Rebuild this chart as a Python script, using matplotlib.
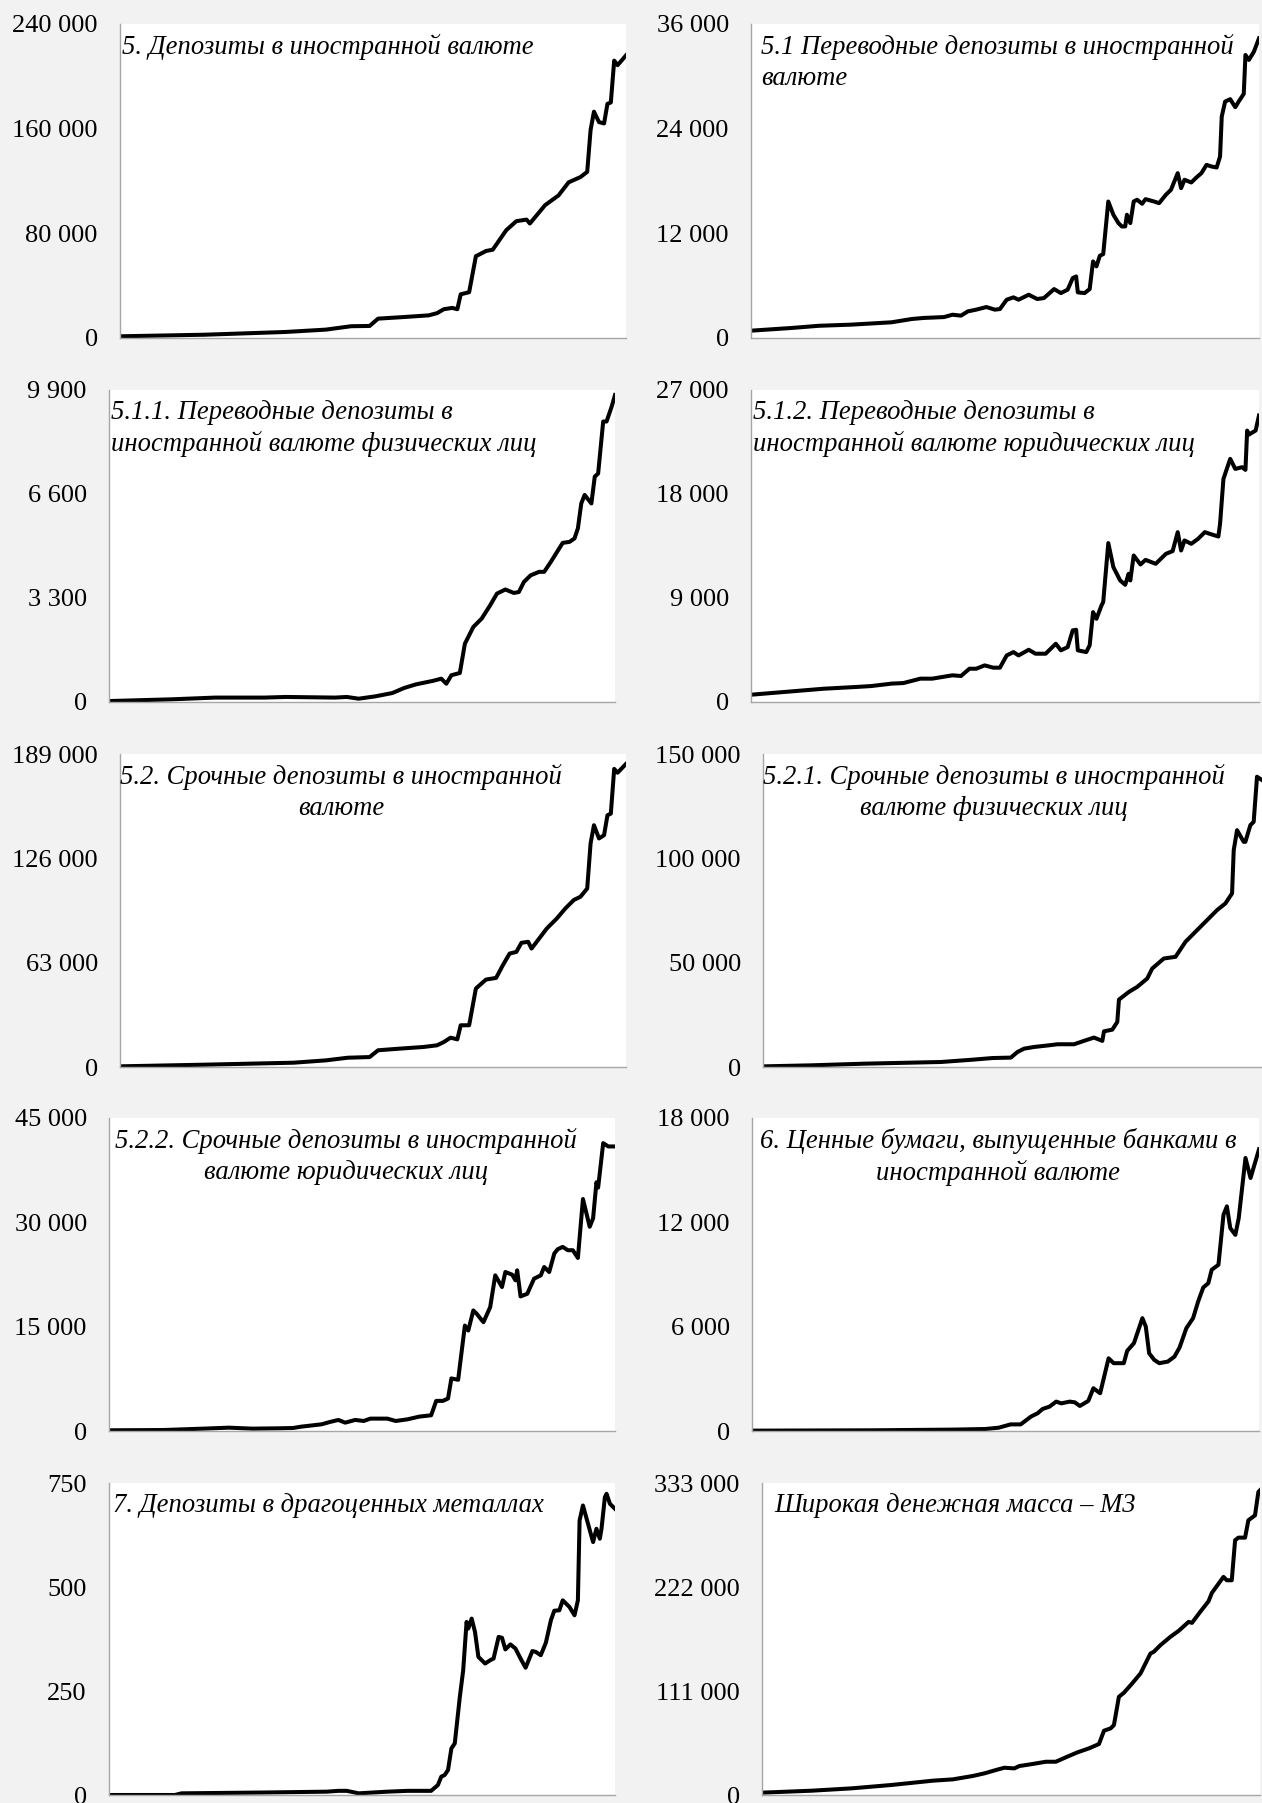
import matplotlib
matplotlib.use("Agg")
import matplotlib.pyplot as plt
from matplotlib.ticker import FixedLocator, FuncFormatter

# months since start of the observed period (x axis is not labelled)
dep_fx_m = [0, 50, 98, 122, 137, 148, 153, 168, 183, 188, 192, 197, 200, 202, 207, 211, 217, 221, 229,
            235, 241, 243, 252, 260, 266, 273, 277, 279, 281, 284, 287, 289, 291, 293, 295, 300]
dep_fx_v = [1300, 2500, 4600, 6400, 9000, 9200, 14800, 16000, 17300, 19000, 22000, 23000, 22000, 33400,
            35000, 62500, 66500, 67500, 82400, 89300, 90500, 87500, 101500, 109000, 119000, 123000,
            127000, 159000, 173000, 165000, 164000, 179000, 180000, 212000, 208500, 216000]

trans_fx_m = [0, 24, 40, 59, 83, 95, 102, 114, 119, 124, 128, 133, 139, 144, 147, 151, 155, 158, 164, 169,
              173, 179, 183, 187, 190, 192, 193, 197, 200, 202, 204, 206, 208, 211, 214, 217, 219, 221,
              222, 224, 226, 228, 231, 233, 238, 241, 245, 248, 252, 254, 256, 260, 263, 266, 269, 272,
              275, 277, 278, 280, 283, 286, 288, 291, 292, 294, 297, 300]
trans_fx_v = [840, 1150, 1400, 1530, 1800, 2180, 2300, 2400, 2670, 2560, 3050, 3250, 3550, 3250, 3320,
              4390, 4660, 4390, 4960, 4470, 4580, 5610, 5150, 5540, 6870, 7060, 5230, 5150, 5610, 8780,
              8210, 9430, 9620, 15650, 14130, 13170, 12790, 12790, 14130, 13170, 15650, 15850, 15390,
              15920, 15650, 15460, 16420, 16990, 18900, 17180, 18140, 17830, 18400, 18900, 19850, 19660,
              19550, 20810, 25390, 27110, 27380, 26460, 27110, 27990, 32450, 31880, 32830, 34360]

trans_ind_m = [0, 37, 63, 92, 105, 134, 141, 148, 158, 168, 175, 182, 192, 197, 200, 203, 208, 211, 216,
               221, 226, 230, 235, 240, 243, 246, 250, 255, 258, 262, 269, 273, 276, 278, 280, 282, 286,
               288, 290, 293, 295, 298, 300]
trans_ind_v = [30, 85, 140, 140, 160, 140, 160, 105, 180, 285, 445, 560, 670, 740, 580, 850, 920, 1850,
               2380, 2650, 3070, 3440, 3570, 3460, 3490, 3810, 4020, 4130, 4130, 4450, 5050, 5080, 5190,
               5510, 6300, 6570, 6300, 7150, 7250, 8900, 8900, 9370, 9740]

trans_corp_m = [0, 24, 43, 62, 71, 83, 90, 100, 107, 119, 124, 129, 133, 138, 143, 147, 151, 155, 158,
                164, 168, 174, 180, 183, 187, 190, 192, 193, 198, 200, 202, 204, 207, 208, 211, 214, 218,
                221, 223, 224, 226, 230, 233, 239, 245, 249, 252, 254, 256, 260, 264, 268, 271, 276, 277,
                279, 283, 286, 290, 292, 293, 294, 298, 300]
trans_corp_v = [630, 920, 1150, 1300, 1380, 1590, 1640, 2020, 2020, 2310, 2250, 2880, 2880, 3170, 2970,
                2970, 4030, 4320, 4030, 4520, 4180, 4180, 5040, 4470, 4750, 6200, 6250, 4470, 4320, 4900,
                7780, 7200, 8360, 8650, 13750, 11670, 10520, 10140, 11100, 10520, 12680, 11900, 12300,
                11960, 12820, 13060, 14700, 13110, 13980, 13690, 14120, 14700, 14550, 14320, 15420,
                19310, 21040, 20170, 20320, 20090, 23490, 23140, 23490, 24790]

term_fx_m = [0, 50, 103, 122, 135, 148, 153, 166, 180, 188, 192, 196, 200, 202, 207, 211, 217, 223, 227,
             231, 235, 238, 242, 244, 253, 259, 264, 269, 273, 277, 279, 281, 284, 287, 289, 291, 293,
             295, 300]
term_fx_v = [400, 1400, 2600, 4000, 5600, 6000, 10100, 11100, 12100, 13100, 15100, 17700, 16700, 25200,
             25200, 47400, 52800, 53800, 61500, 68500, 69500, 75000, 75600, 71500, 83600, 89700, 95700,
             100800, 102800, 107800, 135000, 146000, 138000, 140000, 152000, 153000, 180000, 177700,
             183000]

term_ind_m = [0, 29, 61, 90, 107, 126, 138, 149, 153, 157, 163, 172, 177, 187, 194, 199, 204, 205, 210,
              213, 214, 220, 225, 231, 234, 241, 248, 254, 260, 267, 273, 278, 282, 283, 285, 289, 290,
              293, 295, 297, 300]
term_ind_v = [300, 800, 1600, 2100, 2400, 3500, 4300, 4500, 7200, 8800, 9600, 10400, 10900, 10900, 12800,
              14100, 12500, 17100, 17900, 21600, 32300, 36000, 38400, 42400, 47200, 52000, 52800, 60000,
              64800, 70400, 75200, 78400, 83200, 103900, 113500, 107900, 107900, 115900, 117500, 139100,
              137500]

term_corp_m = [0, 32, 56, 71, 85, 100, 109, 114, 126, 131, 136, 140, 146, 151, 155, 165, 170, 177, 184,
               191, 194, 198, 201, 203, 207, 211, 213, 216, 218, 222, 226, 229, 233, 235, 239, 241, 242,
               244, 248, 252, 256, 258, 261, 264, 266, 269, 272, 275, 278, 281, 285, 287, 289, 290, 293,
               296, 300]
term_corp_v = [100, 140, 340, 480, 340, 385, 430, 625, 960, 1300, 1590, 1200, 1590, 1440, 1780, 1780,
               1440, 1680, 2070, 2260, 4330, 4330, 4670, 7560, 7360, 15160, 14440, 17330, 16850, 15640,
               17810, 22380, 20700, 22860, 22480, 21660, 23100, 19350, 19730, 21900, 22380, 23580, 22860,
               25510, 26130, 26470, 25990, 25990, 24880, 33350, 29360, 30560, 35760, 34990, 41390, 40910,
               40910]

sec_m = [0, 71, 119, 138, 146, 153, 159, 165, 169, 172, 176, 180, 183, 188, 191, 194, 199, 202, 206, 211,
         214, 220, 222, 226, 231, 233, 235, 238, 241, 246, 250, 253, 257, 261, 264, 267, 270, 272, 276, 279,
         281, 283, 286, 288, 292, 295, 300]
sec_v = [20, 40, 80, 115, 190, 380, 380, 825, 1020, 1270, 1400, 1690, 1590, 1690, 1650, 1440, 1730, 2460,
         2170, 4180, 3900, 3900, 4610, 5050, 6490, 6010, 4470, 4090, 3900, 3990, 4280, 4800, 5910, 6490,
         7450, 8250, 8500, 9270, 9560, 12440, 12920, 11670, 11280, 12240, 15700, 14550, 16200]

metal_m = [0, 39, 43, 92, 129, 136, 141, 148, 165, 177, 191, 195, 197, 199, 201, 203, 205, 208, 210, 212,
           213, 215, 217, 219, 223, 226, 228, 231, 233, 235, 238, 241, 244, 247, 251, 253, 256, 259, 262,
           264, 267, 269, 273, 276, 278, 279, 281, 284, 287, 289, 291, 292, 294, 295, 297, 300]
metal_v = [0, 0, 4, 6, 8, 10, 10, 4, 8, 10, 10, 24, 44, 48, 60, 112, 124, 236, 300, 416, 400, 424, 392,
           332, 316, 324, 328, 380, 378, 350, 362, 352, 328, 306, 346, 344, 336, 366, 420, 443, 444, 468,
           452, 432, 468, 660, 696, 652, 608, 640, 616, 640, 716, 724, 700, 688]

m3_m = [0, 30, 54, 78, 103, 115, 127, 134, 141, 146, 152, 155, 163, 171, 177, 183, 190, 197, 203, 206,
        210, 212, 215, 218, 223, 228, 234, 236, 240, 246, 251, 257, 259, 264, 269, 271, 278, 280, 283, 285,
        287, 291, 293, 297, 299, 300]
m3_v = [2500, 4600, 7100, 10700, 15300, 16700, 20300, 23100, 26700, 29100, 28400, 30900, 33100, 35500,
        35500, 40200, 45500, 49800, 54400, 68600, 71100, 74600, 104800, 109100, 119100, 129700, 151000,
        152800, 159900, 168800, 175200, 184800, 183700, 195500, 206800, 215700, 232800, 229200, 229200,
        271900, 274700, 274700, 293200, 298500, 323400, 325200]

titles = [
    "5. Депозиты в иностранной валюте",
    "5.1 Переводные депозиты в иностранной\nвалюте",
    "5.1.1. Переводные депозиты в\nиностранной валюте физических лиц",
    "5.1.2. Переводные депозиты в\nиностранной валюте юридических лиц",
    "5.2. Срочные депозиты в иностранной\nвалюте",
    "5.2.1. Срочные депозиты в иностранной\nвалюте физических лиц",
    "5.2.2. Срочные депозиты в иностранной\nвалюте юридических лиц",
    "6. Ценные бумаги, выпущенные банками в\nиностранной валюте",
    "7. Депозиты в драгоценных металлах",
    "Широкая денежная масса – М3",
]
y_max = [240000, 36000, 9900, 27000, 189000, 150000, 45000, 18000, 750, 333000]
series = [(dep_fx_m, dep_fx_v), (trans_fx_m, trans_fx_v), (trans_ind_m, trans_ind_v),
          (trans_corp_m, trans_corp_v), (term_fx_m, term_fx_v), (term_ind_m, term_ind_v),
          (term_corp_m, term_corp_v), (sec_m, sec_v), (metal_m, metal_v), (m3_m, m3_v)]

# axes rectangles in pixels: left, right, top, bottom
W, H = 1262, 1803
rects = [(120, 626, 24, 338), (751, 1259, 24, 338),
         (109, 615, 390, 702), (751, 1259, 390, 702),
         (120, 626, 754, 1067), (763, 1262, 754, 1067),
         (109, 615, 1118, 1431), (752, 1259, 1118, 1431),
         (109, 615, 1483, 1795), (762, 1260, 1483, 1795)]
# title x offset (px from axes left) and alignment
title_pos = [(2, 'left'), (10, 'left'), (2, 'left'), (2, 'left'), (0, 'center'),
             (0, 'center'), (6, 'center'), (8, 'center'), (4, 'left'), (12, 'left')]

serif = ['Liberation Serif', 'DejaVu Serif']
fmt = FuncFormatter(lambda v, p: '{:,.0f}'.format(v).replace(',', ' '))

fig = plt.figure(figsize=(W / 100, H / 100), dpi=100, facecolor='#f2f2f2')
for i in range(10):
    l, r, t, b = rects[i]
    ax = fig.add_axes([l / W, 1 - b / H, (r - l) / W, (b - t) / H])
    ax.set_facecolor('white')
    m, v = series[i]
    ax.plot(m, v, color='black', lw=2.9, solid_joinstyle='round')
    ax.set_xlim(0, 300)
    ax.set_ylim(0, y_max[i])
    ax.yaxis.set_major_locator(FixedLocator([0, y_max[i] / 3, y_max[i] * 2 / 3, y_max[i]]))
    ax.yaxis.set_major_formatter(fmt)
    ax.set_xticks([])
    ax.tick_params(axis='y', length=0, pad=16)
    for lab in ax.get_yticklabels():
        lab.set_fontfamily(serif)
        lab.set_fontsize(19)
    for s in ['top', 'right']:
        ax.spines[s].set_visible(False)
    for s in ['left', 'bottom']:
        ax.spines[s].set_color('#a6a6a6')
        ax.spines[s].set_linewidth(1)
    dx, al = title_pos[i]
    ax.text(dx / (r - l), 1 - 10 / (b - t), titles[i], transform=ax.transAxes, ha='left', va='top',
            ma=al, fontsize=19.2, fontstyle='italic', family=serif, linespacing=1.3)

fig.savefig('out.png', dpi=100, facecolor=fig.get_facecolor())
